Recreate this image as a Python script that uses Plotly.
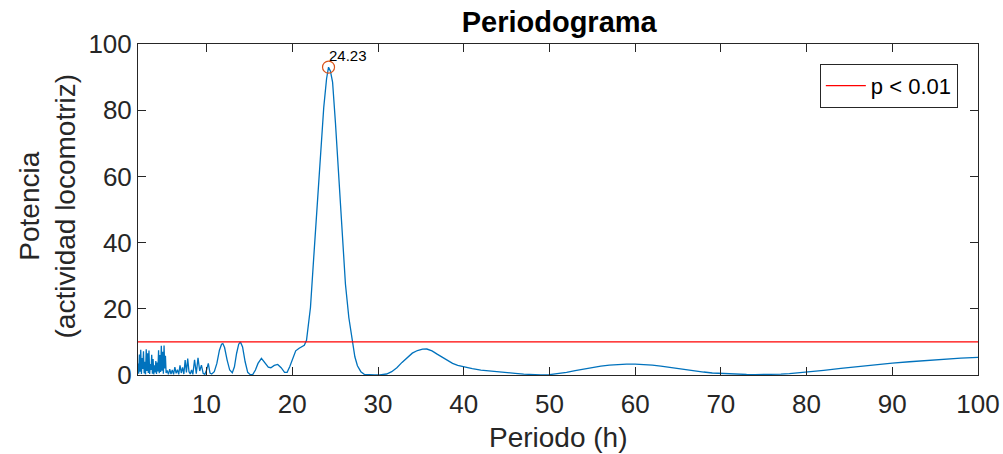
import plotly.graph_objects as go

# ---- data ----
period = [
    2.00, 2.08, 2.16, 2.24, 2.32, 2.40, 2.48, 2.56, 2.64, 2.72, 2.80, 2.88, 2.96, 3.04,
    3.12, 3.20, 3.28, 3.36, 3.44, 3.52, 3.60, 3.68, 3.76, 3.84, 3.92, 4.00, 4.08, 4.16,
    4.24, 4.32, 4.40, 4.48, 4.56, 4.64, 4.72, 4.80, 4.88, 4.96, 5.04, 5.12, 5.20, 5.28,
    5.40, 5.55, 5.70, 5.85, 6.00, 6.15, 6.30, 6.45, 6.60, 6.75, 6.90, 7.05, 7.20, 7.35,
    7.50, 7.65, 7.80, 7.95, 8.10, 8.25, 8.40, 8.60, 8.80, 9.00, 9.20, 9.40, 9.60, 9.80,
    10.00, 10.20, 10.40, 10.60, 10.90, 11.20, 11.50, 11.75, 11.90, 12.10, 12.40, 12.70,
    13.00, 13.25, 13.50, 13.75, 13.95, 14.20, 14.50, 14.80, 15.10, 15.40, 15.70, 16.00,
    16.40, 16.80, 17.20, 17.50, 17.90, 18.30, 18.70, 19.10, 19.40, 19.70, 20.00, 20.40,
    20.80, 21.15, 21.40, 21.66, 21.90, 22.12, 22.50, 22.90, 23.29, 23.67, 24.00, 24.23,
    24.45, 24.70, 25.04, 25.42, 25.82, 26.20, 26.60, 27.00, 27.30, 27.60, 28.00, 28.40,
    29.00, 29.60, 30.20, 31.00, 31.60, 32.20, 32.80, 33.40, 34.00, 34.60, 35.20, 35.70,
    36.30, 36.90, 37.50, 38.10, 38.70, 39.30, 40.00, 41.00, 42.00, 43.00, 44.00, 45.00,
    46.00, 47.00, 48.00, 49.00, 50.00, 51.00, 52.00, 53.00, 54.00, 55.00, 56.00, 57.00,
    58.00, 59.00, 60.00, 61.00, 62.00, 63.00, 64.00, 65.00, 66.00, 67.00, 68.00, 69.00,
    70.00, 71.00, 72.00, 73.00, 74.00, 75.00, 76.00, 77.00, 78.00, 79.00, 80.00, 82.00,
    84.00, 86.00, 88.00, 90.00, 92.00, 94.00, 96.00, 98.00, 100.00,
]
power = [
    3.5, 0.4, 6.2, 1.0, 7.6, 0.3, 5.1, 1.8, 7.2, 0.5, 4.0, 0.2, 7.8, 1.2,
    6.6, 0.6, 7.4, 0.3, 3.3, 1.5, 6.1, 0.4, 4.8, 0.2, 2.9, 0.8, 4.2, 0.3,
    3.8, 1.1, 7.5, 0.5, 6.0, 0.9, 8.8, 1.3, 7.0, 0.4, 8.9, 2.0, 5.8, 0.6,
    1.4, 0.2, 1.8, 0.3, 1.5, 0.2, 2.4, 0.5, 1.6, 0.2, 2.9, 0.6, 2.3, 0.3,
    4.5, 0.8, 5.0, 1.0, 0.3, 1.5, 0.2, 4.6, 0.4, 5.2, 1.2, 3.0, 0.5, 0.2,
    1.5, 3.5, 0.6, 0.3, 1.0, 3.5, 7.5, 9.3, 9.5, 8.3, 4.5, 1.5,
    0.7, 2.5, 6.5, 9.3, 10.0, 8.5, 4.0, 0.8, 0.1, 0.2, 1.5, 3.5,
    5.0, 3.8, 2.4, 2.2, 2.9, 3.2, 2.2, 0.8, 0.8, 2.5, 4.8, 7.3,
    8.1, 8.5, 9.0, 10.5, 15.0, 20.4, 35.4, 50.5, 67.7, 80.8, 89.5, 93.0,
    91.8, 88.5, 76.0, 58.9, 42.7, 27.5, 17.3, 10.0, 5.5, 2.8, 1.0, 0.2,
    0.0, 0.0, 0.05, 0.3, 1.0, 2.2, 3.8, 5.3, 6.6, 7.4, 7.8, 7.85,
    7.3, 6.3, 5.3, 4.3, 3.5, 2.9, 2.4, 1.9, 1.5, 1.3, 1.0, 0.75,
    0.5, 0.25, 0.1, 0.05, 0.1, 0.35, 0.8, 1.3, 1.8, 2.3, 2.7, 3.0,
    3.2, 3.3, 3.3, 3.2, 3.0, 2.7, 2.3, 1.9, 1.5, 1.2, 0.9, 0.6,
    0.45, 0.3, 0.2, 0.15, 0.12, 0.12, 0.15, 0.25, 0.4, 0.6, 0.85, 1.4,
    2.0, 2.6, 3.1, 3.6, 4.0, 4.4, 4.8, 5.1, 5.3,
]
threshold_x = [2.0, 100.0]
threshold_y = [10.0, 10.0]
threshold_name = "p < 0.01"
x_ticks = [10, 20, 30, 40, 50, 60, 70, 80, 90, 100]
y_ticks = [0, 20, 40, 60, 80, 100]

peak_idx = max(range(len(power)), key=lambda i: power[i])
peak_x = period[peak_idx]
peak_y = power[peak_idx]

FONT = "Liberation Sans, Arial, Helvetica, sans-serif"
AX = "#262626"

fig = go.Figure()
fig.add_trace(go.Scatter(
    x=period, y=power, mode="lines",
    line=dict(color="#0072BD", width=1.3),
    showlegend=False, hoverinfo="x+y",
))
fig.add_trace(go.Scatter(
    x=threshold_x, y=threshold_y, mode="lines",
    line=dict(color="#FF0000", width=1.2),
    name=threshold_name, showlegend=True,
))
fig.add_trace(go.Scatter(
    x=[peak_x], y=[peak_y], mode="markers",
    marker=dict(symbol="circle-open", size=12, color="#D95319", line=dict(width=1.2, color="#D95319")),
    showlegend=False,
))

fig.add_annotation(
    x=peak_x, y=peak_y, xref="x", yref="y",
    text=f"{peak_x:.2f}", showarrow=False,
    xanchor="left", yanchor="bottom", xshift=-2, yshift=1,
    font=dict(family=FONT, size=15, color="#000000"),
)
fig.add_annotation(
    xref="paper", yref="paper", x=-0.108, y=0.51,
    text="Potencia<br>(actividad locomotriz)", showarrow=False,
    textangle=-90, xanchor="center", yanchor="middle",
    font=dict(family=FONT, size=28, color=AX),
)
fig.add_annotation(
    xref="paper", yref="paper", x=0.5, y=-0.19,
    text="Periodo (h)", showarrow=False,
    xanchor="center", yanchor="middle",
    font=dict(family=FONT, size=28, color=AX),
)

fig.update_layout(
    width=1003, height=454,
    margin=dict(l=138, r=25, t=44, b=79),
    paper_bgcolor="white", plot_bgcolor="white",
    title=dict(text="<b>Periodograma</b>", x=0.5575, xanchor="center", y=0.952, yanchor="middle",
               font=dict(family=FONT, size=29, color="#000000")),
    legend=dict(
        x=0.976, y=0.94, xanchor="right", yanchor="top",
        bgcolor="white", bordercolor=AX, borderwidth=1,
        font=dict(family=FONT, size=22, color="#000000"),
        itemwidth=40,
    ),
    showlegend=True,
)
fig.update_xaxes(
    range=[2, 100], tickvals=x_ticks, ticktext=[str(v) for v in x_ticks],
    ticks="inside", ticklen=8, tickcolor=AX, mirror="allticks",
    showline=True, linecolor=AX, linewidth=1, showgrid=False, zeroline=False,
    tickfont=dict(family=FONT, size=26, color=AX), ticklabelstandoff=6,
    automargin=False,
)
fig.update_yaxes(
    range=[0, 100], tickvals=y_ticks, ticktext=[str(v) for v in y_ticks],
    ticks="inside", ticklen=8, tickcolor=AX, mirror="allticks",
    showline=True, linecolor=AX, linewidth=1, showgrid=False, zeroline=False,
    tickfont=dict(family=FONT, size=26, color=AX),
    automargin=False,
)

fig.write_html("out.html")
